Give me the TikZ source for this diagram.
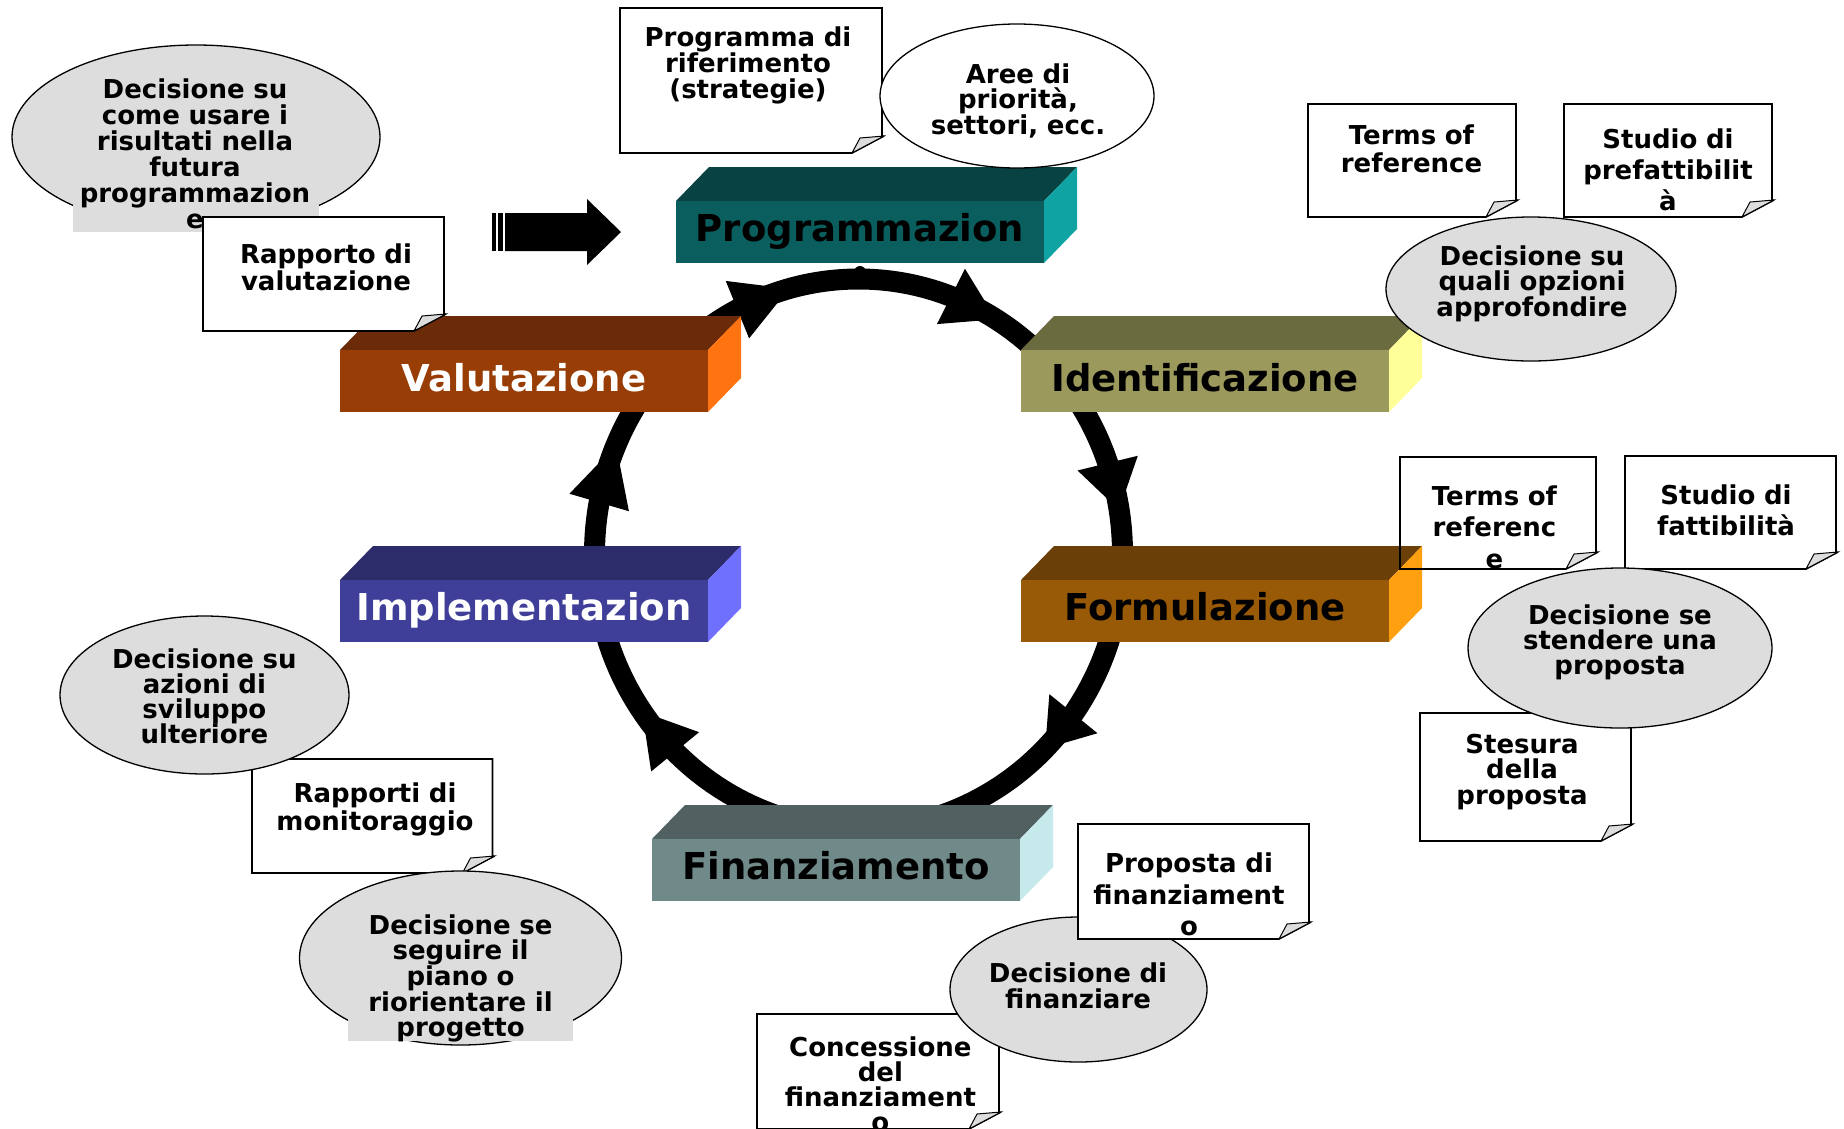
\documentclass[tikz,border=0pt]{standalone}
\usepackage{fontspec}
\setmainfont{DejaVu Sans}
\usetikzlibrary{calc}
\definecolor{lgray}{HTML}{DDDDDD}
\definecolor{progT}{HTML}{084242}\definecolor{progF}{HTML}{0A5E5E}\definecolor{progS}{HTML}{10A3A3}
\definecolor{identT}{HTML}{6B6B40}\definecolor{identF}{HTML}{9C995C}\definecolor{identS}{HTML}{FFFF99}
\definecolor{valT}{HTML}{6B2A08}\definecolor{valF}{HTML}{993D07}\definecolor{valS}{HTML}{FF7410}
\definecolor{implT}{HTML}{2C2C6B}\definecolor{implF}{HTML}{3F3F99}\definecolor{implS}{HTML}{7070FF}
\definecolor{formT}{HTML}{6B4008}\definecolor{formF}{HTML}{995A07}\definecolor{formS}{HTML}{FFA010}
\definecolor{finT}{HTML}{516060}\definecolor{finF}{HTML}{708989}\definecolor{finS}{HTML}{C6E9EC}
\newcommand{\cubeblock}[5]{%
  \fill[#3] (#1,#2) -- ({#1+33},{#2-34}) -- ({#1+401},{#2-34}) -- ({#1+368},#2) -- cycle;
  \fill[#4] (#1,#2) rectangle ({#1+368},{#2+62});
  \fill[#5] ({#1+368},#2) -- ({#1+401},{#2-34}) -- ({#1+401},{#2+28}) -- ({#1+368},{#2+62}) -- cycle;}
\newcommand{\curlbox}[5]{%
  \filldraw[cbox, fill=#5] (#1,#2) -- (#3,#2) -- (#3,{#4-16}) -- ({#3+2},{#4-17}) -- ({#3-30},#4) -- (#1,#4) -- cycle;
  \filldraw[line width=1pt, fill=lgray] ({#3+2},{#4-17}) -- ({#3-22},{#4-15}) -- ({#3-30},#4) -- cycle;}
\newcommand{\ringhead}[2]{%
  \path ({858.5+264*cos(#1)},{554-275*sin(#1)}) coordinate (hb)
        ({858.5+264*cos(#2)},{554-275*sin(#2)}) coordinate (ht);
  \fill ($(hb)!31pt!90:(ht)$) -- (ht) -- ($(hb)!31pt!-90:(ht)$) -- cycle;}
\tikzset{
  cbox/.style={line width=1.6pt},
  cell/.style={draw, line width=1.3pt, fill=lgray},
  ctext/.style={anchor=base, text width=260pt, align=center, inner sep=0pt,
    font=\fontsize{26}{#1}\selectfont\bfseries},
  ctext/.default=26,
  btext/.style={anchor=base, inner sep=0pt, font=\fontsize{37}{40}\selectfont\bfseries},
}
\begin{document}
\begin{tikzpicture}[x=1pt,y=-1pt]
\useasboundingbox (0,0) rectangle (1844,1128);
\fill[white] (0,0) rectangle (1844,1128);
% ring
\draw[line width=21pt] (858.5,554) ellipse [x radius=264pt, y radius=275pt];
\fill (860,272) circle (6pt);
\ringhead{117.3}{105.3}
\ringhead{69.5}{58.6}
\ringhead{19.3}{9.2}
\ringhead{-35.5}{-45}
\ringhead{226}{215}
\ringhead{169.2}{156.7}
% blocks
\cubeblock{676}{201}{progT}{progF}{progS}
\node[btext, text=black] (prog) at (860,241) {Programmazion};
\cubeblock{1021}{350}{identT}{identF}{identS}
\node[btext, text=black] (ident) at (1205,391) {Identificazione};
\cubeblock{340}{350}{valT}{valF}{valS}
\node[btext, text=white] (valut) at (524,391) {Valutazione};
\cubeblock{340}{580}{implT}{implF}{implS}
\node[btext, text=white] (impl) at (524,620) {Implementazion};
\cubeblock{1021}{580}{formT}{formF}{formS}
\node[btext, text=black] (form) at (1205,620) {Formulazione};
\cubeblock{652}{839}{finT}{finF}{finS}
\node[btext, text=black] (finan) at (836,879) {Finanziamento};
% block arrow
\fill (492,213) rectangle (496,251);
\fill (498,213) rectangle (503,251);
\fill (505,213) -- (587,213) -- (587,199) -- (621,232) -- (587,265) -- (587,251) -- (505,251) -- cycle;
% callouts top-left
\filldraw[cell] (196,137) ellipse [x radius=184pt, y radius=92pt];
\fill[lgray] (73,205) rectangle (319,232);
\node[ctext] (decA) at (195,98) {Decisione su\\come usare i\\risultati nella\\futura\\programmazion\\e};
\curlbox{203}{217}{444}{331}{white}
\node[ctext=27] (rappval) at (326,263) {Rapporto di\\valutazione};
% top
\curlbox{620}{8}{882}{153}{white}
\node[ctext=26] (progrif) at (748,46.7) {Programma di\\riferimento\\(strategie)};
\filldraw[cell, fill=white] (1017,96) ellipse [x radius=137pt, y radius=72pt];
\node[ctext=25] (aree) at (1018,83.3) {Aree di\\priorità,\\settori, ecc.};
% top right
\curlbox{1308}{104}{1516}{217}{white}
\node[ctext=28.5] (tor1) at (1411.5,144.3) {Terms of\\reference};
\curlbox{1564}{104}{1772}{217}{white}
\node[ctext=31] (prefat) at (1668,148.3) {Studio di\\prefattibilit\\à};
\filldraw[cell] (1531,289) ellipse [x radius=145pt, y radius=72pt];
\node[ctext=25] (decG) at (1532,265.7) {Decisione su\\quali opzioni\\approfondire};
% middle right
\curlbox{1400}{457}{1596}{569}{none}
\node[ctext=31.7] (tor2) at (1494.5,505) {Terms of\\referenc\\e};
\curlbox{1625}{456}{1836}{569}{white}
\node[ctext=31.7] (fattib) at (1726,504) {Studio di\\fattibilità};
\curlbox{1420}{713}{1631}{841}{white}
\node[ctext=25.5] (stesura) at (1522,753.3) {Stesura\\della\\proposta};
\filldraw[cell] (1620,648) ellipse [x radius=152pt, y radius=80pt];
\node[ctext=25.2] (decJ) at (1620,624) {Decisione se\\stendere una\\proposta};
% bottom left
\curlbox{252}{759}{492.5}{873}{white}
\node[ctext=28] (monit) at (375,802.3) {Rapporti di\\monitoraggio};
\filldraw[cell] (204.5,695) ellipse [x radius=144.5pt, y radius=79pt];
\node[ctext=25.2] (decL) at (204.4,668.3) {Decisione su\\azioni di\\sviluppo\\ulteriore};
\filldraw[cell] (460.5,958) ellipse [x radius=161pt, y radius=87pt];
\fill[lgray] (348,1018) rectangle (573,1041);
\node[ctext=25] (decN) at (460.6,934.3) {Decisione se\\seguire il\\piano o\\riorientare il\\progetto};
% bottom
\curlbox{757}{1014}{999}{1129}{white}
\node[ctext=25] (conc) at (880.4,1056) {Concessione\\del\\finanziament\\o};
\filldraw[cell] (1078.5,989.5) ellipse [x radius=128.5pt, y radius=72.5pt];
\node[ctext=25.6] (decP) at (1078,982.7) {Decisione di\\finanziare};
\curlbox{1078}{824}{1309}{939}{white}
\node[ctext=31.3] (propfin) at (1189,872.7) {Proposta di\\finanziament\\o};
\end{tikzpicture}
\end{document}
